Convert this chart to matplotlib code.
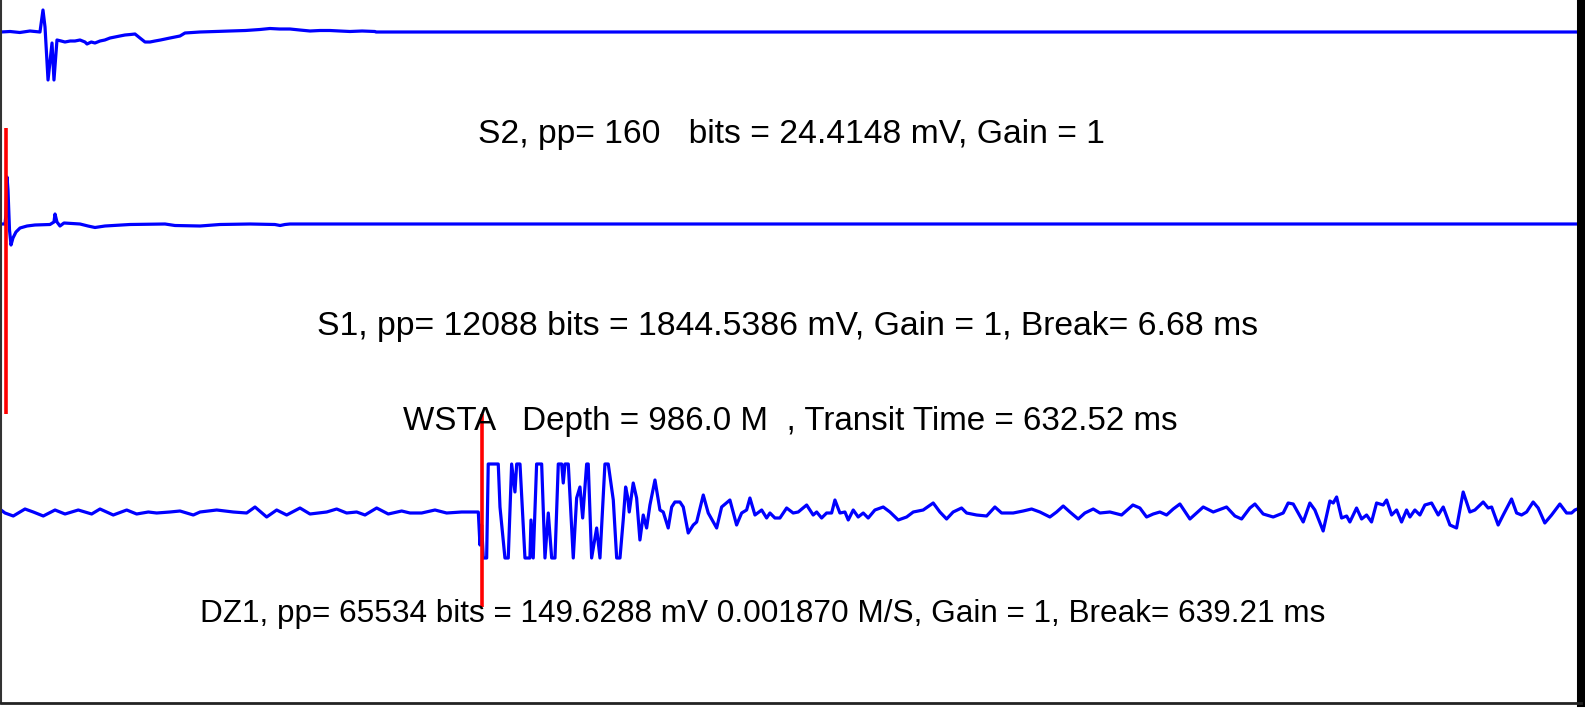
import matplotlib
matplotlib.use("Agg")
import matplotlib.pyplot as plt
import numpy as np

# ---------------- data ----------------
# S2 trace: time (ms) and amplitude (arbitrary units, + = up)
s2_t = [0, 12, 25, 38.5, 51.8, 55.8, 58.5, 62.5, 67.8, 70.4, 74.4, 80, 85, 92, 98.3, 105,
        111.6, 114.3, 120, 124.9, 131.6, 138, 144.9, 151.5, 158, 164.8, 172, 178.1, 184.7,
        191.4, 198, 204.7, 212, 224.6, 237.9, 244.5, 264.5, 285, 304.3, 325, 344.2, 357.5,
        370, 384.1, 397, 410.7, 424, 437.2, 450, 463.8, 480, 497.0, 498.4, 2100]
s2_a = [0, 0.5, -0.5, 1, 0, 22, 5, -48, -11, -48, -8, -9, -10, -9, -9, -8,
        -10, -12, -10, -11, -9, -8, -6, -5, -4, -3, -2.5, -2, -6,
        -10, -10, -9, -8, -6, -4, -1, 0, 0.5, 1, 1.5, 2.5, 3.5,
        3, 3, 2, 1, 1.5, 1.5, 1, 0.5, 1, 0.5, 0, 0]

# S1 trace
s1_t = [0, 5.3, 6.6, 8.0, 9.3, 11.3, 13.3, 15.9, 19.9, 25.3, 34.6, 45.2, 65.1, 70.4,
        71.8, 74.4, 78.4, 83.7, 105, 115.6, 124.9, 138.2, 171.4, 218, 231.2, 264.5,
        291, 331, 364, 371, 377.4, 384, 397.4, 2100]
s1_a = [0, 0, 9, 47, 34, -6, -21, -14, -8, -4, -2, -1, -0.5, 2,
        10, 2, -2, 1, 0, -2, -3.5, -2, -0.5, 0, -1.5, -2,
        -0.5, 0, -0.5, -1.5, -0.5, 0, 0, 0]

# DZ1 trace
dz1_t = [0, 5.3, 16.3, 31.9, 42.9, 56.2, 71.8, 85.1, 102.7, 120.5, 131.6, 149.2, 167.1,
         180.3, 195.8, 206.9, 224.6, 237.9, 255.6, 264.5, 286.7, 308.7, 326.5, 337.6,
         353.1, 366.4, 379.7, 397.4, 410.7, 432.9, 446.1, 459.4, 472.7, 483.8, 499.3,
         514.7, 532.5, 543.6, 559.1, 576.8, 592.3, 612.3, 633.0, 634.4, 636.6, 638.8,
         641.0, 645.5, 647.6, 660.9, 663.2, 669.8, 674.2, 678.7, 683.1, 685.4, 689.8,
         696.4, 703.0, 704.4, 707.4, 711.9, 718.6, 723.0, 727.4, 731.9, 736.3, 740.7,
         745.2, 747.3, 749.6, 754.0, 760.6, 765.1, 769.5, 773.1, 778.4, 780.5, 785.0,
         791.7, 796.1, 802.7, 807.1, 813.8, 818.3, 822.7, 827.0, 830.2, 832.9, 835.0,
         840.3, 844.8, 849.2, 853.6, 858.1, 862.5, 869.2, 875.8, 880.2, 886.8, 891.4,
         895.7, 902.4, 906.8, 913.4, 920.1, 924.6, 933.4, 940.0, 951.2, 957.8, 968.8,
         977.7, 984.4, 991.0, 995.4, 1002.1, 1011.0, 1017.6, 1022.0, 1028.6, 1035.3,
         1044.2, 1052.9, 1059.6, 1070.8, 1079.5, 1084.1, 1090.7, 1097.3, 1104.0, 1108.4,
         1115.0, 1121.7, 1126.1, 1132.7, 1139.3, 1146.0, 1152.6, 1161.5, 1172.6, 1181.5,
         1192.5, 1203.7, 1212.5, 1225.7, 1239.0, 1247.9, 1256.8, 1265.5, 1276.7, 1283.4,
         1296.7, 1310.0, 1321.0, 1329.9, 1345.3, 1358.6, 1369.8, 1380.8, 1394.1, 1403.0,
         1411.8, 1420.7, 1431.7, 1440.6, 1451.7, 1460.6, 1473.9, 1489.4, 1504.4, 1513.7,
         1522.6, 1531.4, 1540.3, 1549.2, 1558.0, 1566.9, 1580.2, 1597.9, 1611.2, 1628.9,
         1640.0, 1648.9, 1659.9, 1666.6, 1677.6, 1690.9, 1704.2, 1710.8, 1717.5, 1730.8,
         1739.6, 1746.3, 1757.3, 1766.2, 1770.7, 1775.2, 1781.8, 1788.5, 1792.8, 1801.7,
         1808.4, 1815.0, 1821.6, 1828.3, 1837.1, 1841.6, 1848.3, 1854.9, 1861.5, 1868.2,
         1872.6, 1879.2, 1885.9, 1892.5, 1901.4, 1910.2, 1916.9, 1925.8, 1934.6, 1943.4,
         1952.3, 1959.0, 1970.0, 1976.6, 1981.2, 1989.9, 1996.6, 2007.7, 2014.4, 2021.0,
         2027.7, 2036.4, 2043.1, 2051.9, 2060.9, 2071.9, 2080.8, 2087.5, 2091.9, 2098.6]
dz1_a = [2, -1, -4, 3, 0, -4, 2, -2, 2, -2, 3, -3, 2,
         -2, 0, -1, 0, 1, -3, 0, 2, 0, -1, 5,
         -5, 2, -3, 4, -2, 0, 3, -1, 0, -3, 4,
         -2, 1, -1, -1, 2, -1, 0, 0, 0, -33, -13,
         -46, -46, 48, 48, 5, -46, -46, 48, 20, 48, 48,
         -46, -46, -8, -46, 48, 48, -46, -1, -46, -46, 48,
         48, 29, 48, 48, -46, 14, 25, -6, 48, 48, -46,
         -16, -46, 48, 48, 12, -46, -46, -8, 25, 15, 0,
         29, 14, -28, -3, -16, 7, 32, 2, 0, -16, 5,
         10, 10, 5, -21, -13, -10, 17, -1, -16, 5, 12,
         -13, -1, 2, 14, -3, 2, -6, -1, -6, -6,
         4, -1, 0, 7, -3, 0, -6, -1, -1, 12,
         -1, 0, -8, 2, -5, -1, -6, 2, 5, 0,
         -8, -5, 0, 2, 9, 0, -7, 0, 4, -1,
         -3, -4, 5, -1, -1, 1, 3, 0, -5, 0,
         6, 0, -7, -1, 3, -1, 0, -3, 7, 4,
         -5, -2, 0, -3, 3, 8, -7, 5, 0, 5,
         -4, -7, 4, 8, -2, -5, -1, 9, 8, -10,
         9, 2, -19, 11, 9, 15, -6, -4, -10, 4,
         -7, -3, -10, 9, 7, 12, -3, 2, -10, 2,
         -5, 2, -3, 7, 9, -3, 5, -13, -16, 20,
         0, 2, 10, 4, 5, -13, -3, 13, -1, -3,
         0, 10, 4, -11, -3, 8, -1, -1, 2, 4]

s1_break_ms = 6.68
dz1_break_ms = 639.21

labels = [
    "S2, pp= 160   bits = 24.4148 mV, Gain = 1",
    "S1, pp= 12088 bits = 1844.5386 mV, Gain = 1, Break= 6.68 ms",
    "WSTA   Depth = 986.0 M  , Transit Time = 632.52 ms",
    "DZ1, pp= 65534 bits = 149.6288 mV 0.001870 M/S, Gain = 1, Break= 639.21 ms",
]

# ---------------- layout ----------------
W, H = 1585, 708
fig = plt.figure(figsize=(W / 100, H / 100), dpi=100)
fig.patch.set_facecolor("white")
ax = fig.add_axes([1 / W, 5 / H, 1580 / W, 703 / H])
ax.set_xlim(0, 2100)
ax.set_ylim(703, 0)
ax.set_xticks([])
ax.set_yticks([])
ax.spines["top"].set_visible(False)
ax.spines["left"].set_linewidth(1.5)
ax.spines["left"].set_color("#333333")
ax.spines["bottom"].set_linewidth(2.0)
ax.spines["bottom"].set_color("#222222")
ax.spines["right"].set_linewidth(5.8)
ax.spines["right"].set_color("black")

blue = "#0000ff"
lw = 2.3
offsets = {"S2": 32, "S1": 224, "DZ1": 512}
ax.plot(s2_t, offsets["S2"] - np.array(s2_a), color=blue, lw=lw, solid_joinstyle="round")
ax.plot(s1_t, offsets["S1"] - np.array(s1_a), color=blue, lw=lw, solid_joinstyle="round")
ax.plot(dz1_t, offsets["DZ1"] - np.array(dz1_a), color=blue, lw=lw, solid_joinstyle="round")

ax.vlines(s1_break_ms, 128, 414, color="#ff0000", lw=2.6)
ax.vlines(dz1_break_ms, 414, 607, color="#ff0000", lw=2.6)

font = "Liberation Sans"
text_pos = [(791, 135), (788, 327), (790, 421), (763, 614)]
text_size = [24.2, 24.3, 23.9, 22.7]
for lab, (px, py), fs in zip(labels, text_pos, text_size):
    fig.text(px / W, 1 - py / H, lab, ha="center", va="center",
             fontsize=fs, family=font, color="black")

fig.savefig("out.png", dpi=100, facecolor="white")
